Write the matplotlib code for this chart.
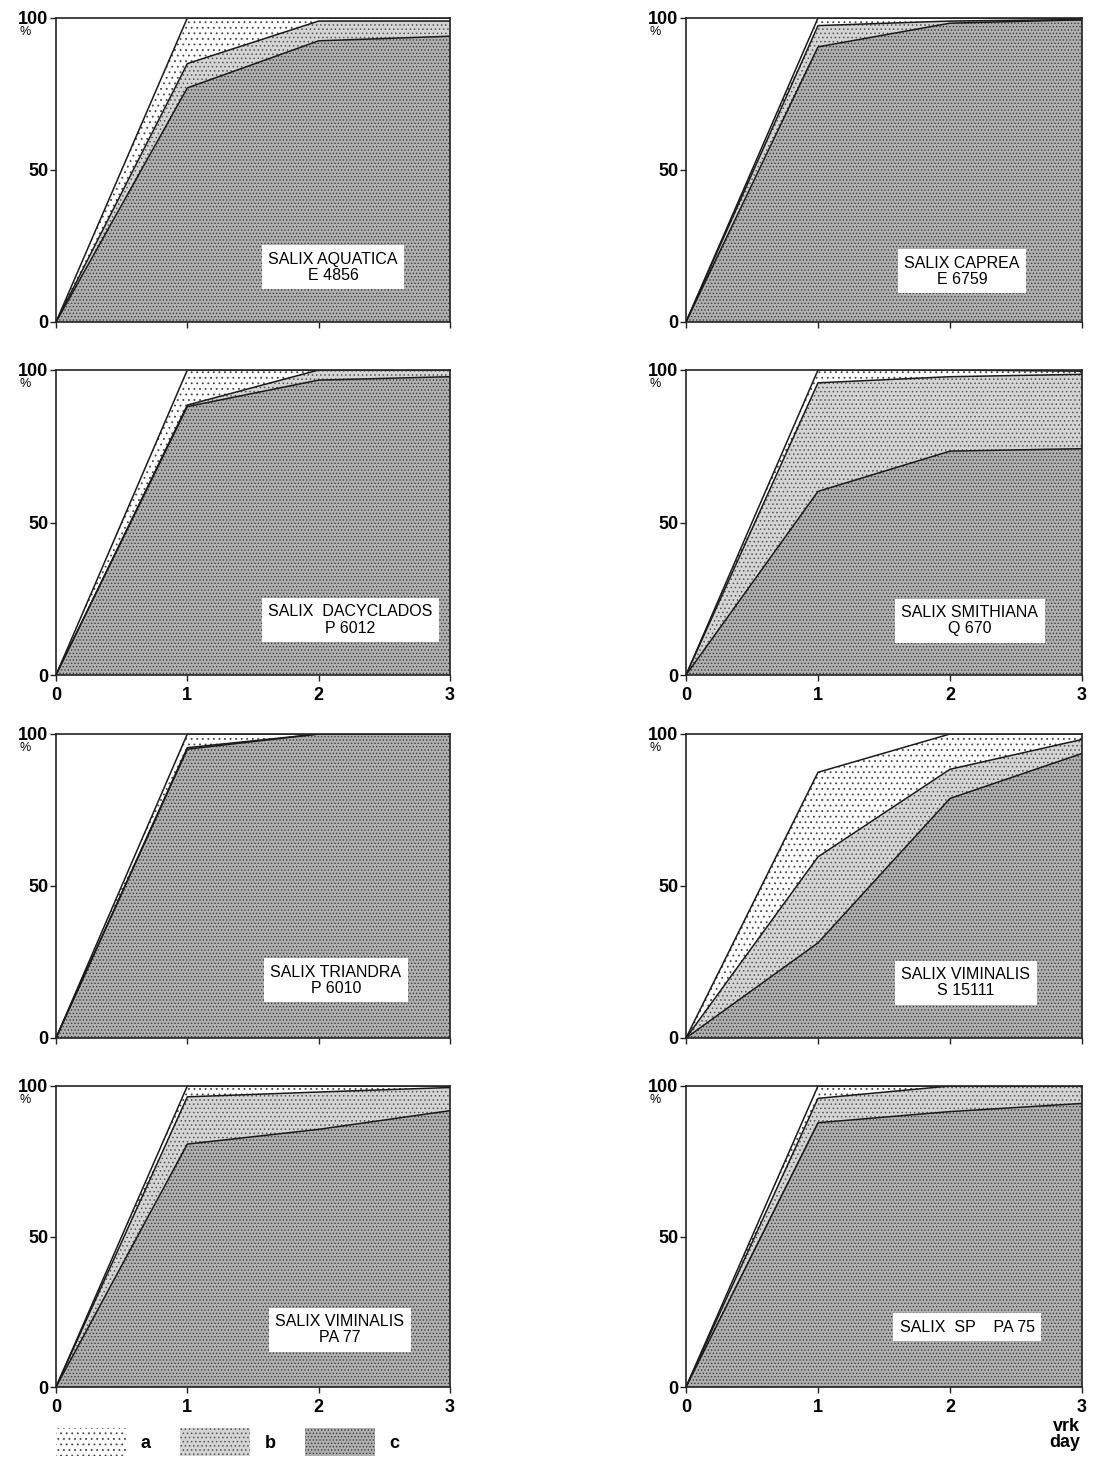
import matplotlib
matplotlib.use("Agg")
import matplotlib.pyplot as plt
from matplotlib.patches import Patch

plt.rcParams['font.family'] = ['Liberation Sans', 'DejaVu Sans']
plt.rcParams['hatch.linewidth'] = 0.6

# ---------------- data ----------------
days = [0, 1, 2, 3]
species = ["SALIX AQUATICA", "SALIX CAPREA", "SALIX  DACYCLADOS", "SALIX SMITHIANA",
           "SALIX TRIANDRA", "SALIX VIMINALIS", "SALIX VIMINALIS", "SALIX  SP    PA 75"]
codes = ["E 4856", "E 6759", "P 6012", "Q 670", "P 6010", "S 15111", "PA 77", ""]
# cumulative percentages (top of each stacked layer)
total_abc = [[0, 100, 100, 100], [0, 100, 100, 100], [0, 100, 100, 100], [0, 100, 100, 99.6],
             [0, 100, 100, 100], [0, 87.4, 100, 100], [0, 100, 100, 100], [0, 100, 100, 100]]
cum_bc = [[0, 85, 99, 99], [0, 97.5, 99, 99.5], [0, 88.5, 100, 100], [0, 95.8, 97.8, 98.6],
          [0, 95.5, 100, 100], [0, 59.6, 88.4, 98.2], [0, 96.4, 98, 99.5], [0, 95.9, 100, 100]]
cum_c = [[0, 77, 92.5, 94], [0, 90.5, 98.3, 99.4], [0, 88, 96.7, 97.8], [0, 60.2, 73.4, 74.2],
         [0, 95, 100, 100], [0, 31.3, 78.8, 93.6], [0, 80.7, 85.6, 91.8], [0, 87.8, 91.5, 94.2]]
yticks = [0, 50, 100]
ytick_labels = ["0", "50", "100"]
xtick_labels = ["0", "1", "2", "3"]
legend_labels = ["a", "b", "c"]

# ---------------- styles ----------------
style_a = dict(facecolor="white", edgecolor="#444444", hatch="...", linewidth=0)
style_b = dict(facecolor="#d4d4d4", edgecolor="#555555", hatch="....", linewidth=0)
style_c = dict(facecolor="#b0b0b0", edgecolor="#3a3a3a", hatch=".....", linewidth=0)

W, H = 1100, 1468
fig = plt.figure(figsize=(W / 100, H / 100), dpi=100)

col_px = [(56, 450), (686, 1082)]
row_px = [(18, 322), (370, 675), (734, 1038), (1086, 1387)]
label_centers = [(2.11, 18), (2.09, 16.7), (2.24, 18), (2.15, 17.8),
                 (2.13, 19), (2.12, 18.2), (2.16, 19), (2.13, 19.9)]

for i in range(8):
    r, c = divmod(i, 2)
    x0, x1 = col_px[c]
    t, b = row_px[r]
    ax = fig.add_axes([x0 / W, 1 - b / H, (x1 - x0) / W, (b - t) / H])
    ax.fill_between(days, cum_bc[i], total_abc[i], zorder=1, **style_a)
    ax.fill_between(days, cum_c[i], cum_bc[i], zorder=2, **style_b)
    ax.fill_between(days, 0, cum_c[i], zorder=3, **style_c)
    for series in (total_abc[i], cum_bc[i], cum_c[i]):
        ax.plot(days, series, color="#1a1a1a", lw=1.1, zorder=4)
    ax.set_xlim(0, 3)
    ax.set_ylim(0, 100)
    ax.set_yticks(yticks)
    ax.set_yticklabels(ytick_labels, fontsize=13, fontweight="bold")
    ax.set_xticks(days)
    if r in (1, 3):
        ax.set_xticklabels(xtick_labels, fontsize=13, fontweight="bold")
    else:
        ax.set_xticklabels([])
    ax.tick_params(axis="both", direction="out", length=4, width=1.0, color="#222222")
    ax.tick_params(axis="y", pad=1.5)
    ax.tick_params(axis="x", pad=5)
    for s in ax.spines.values():
        s.set_linewidth(1.2)
        s.set_color("#222222")
        s.set_zorder(5)
    ax.annotate("%", xy=(0, 1), xycoords="axes fraction", xytext=(-22, -10),
                textcoords="offset points", ha="center", va="center", fontsize=9)
    txt = species[i] if codes[i] == "" else species[i] + "\n" + codes[i]
    lx, ly = label_centers[i]
    ax.text(lx, ly, txt, ha="center", va="center", fontsize=11.5, linespacing=1.1,
            zorder=6, multialignment="center",
            bbox=dict(facecolor="white", edgecolor="none", boxstyle="square,pad=0.4"))

# axis unit text
fig.text(1080 / W, 1 - 1418 / H, "vrk\nday", ha="right", va="top", fontsize=13,
         fontweight="bold", linespacing=0.95)

# legend
handles = [Patch(**style_a), Patch(**style_b), Patch(**style_c)]
fig.legend(handles, legend_labels, loc="upper left", bbox_to_anchor=(56 / W, 1 - 1428 / H),
           ncol=3, frameon=False, handlelength=3.9, handleheight=2.0, handletextpad=0.8,
           columnspacing=1.6, borderpad=0, borderaxespad=0,
           prop={"family": "Liberation Sans", "weight": "bold", "size": 13})

fig.savefig("out.png", dpi=100)
